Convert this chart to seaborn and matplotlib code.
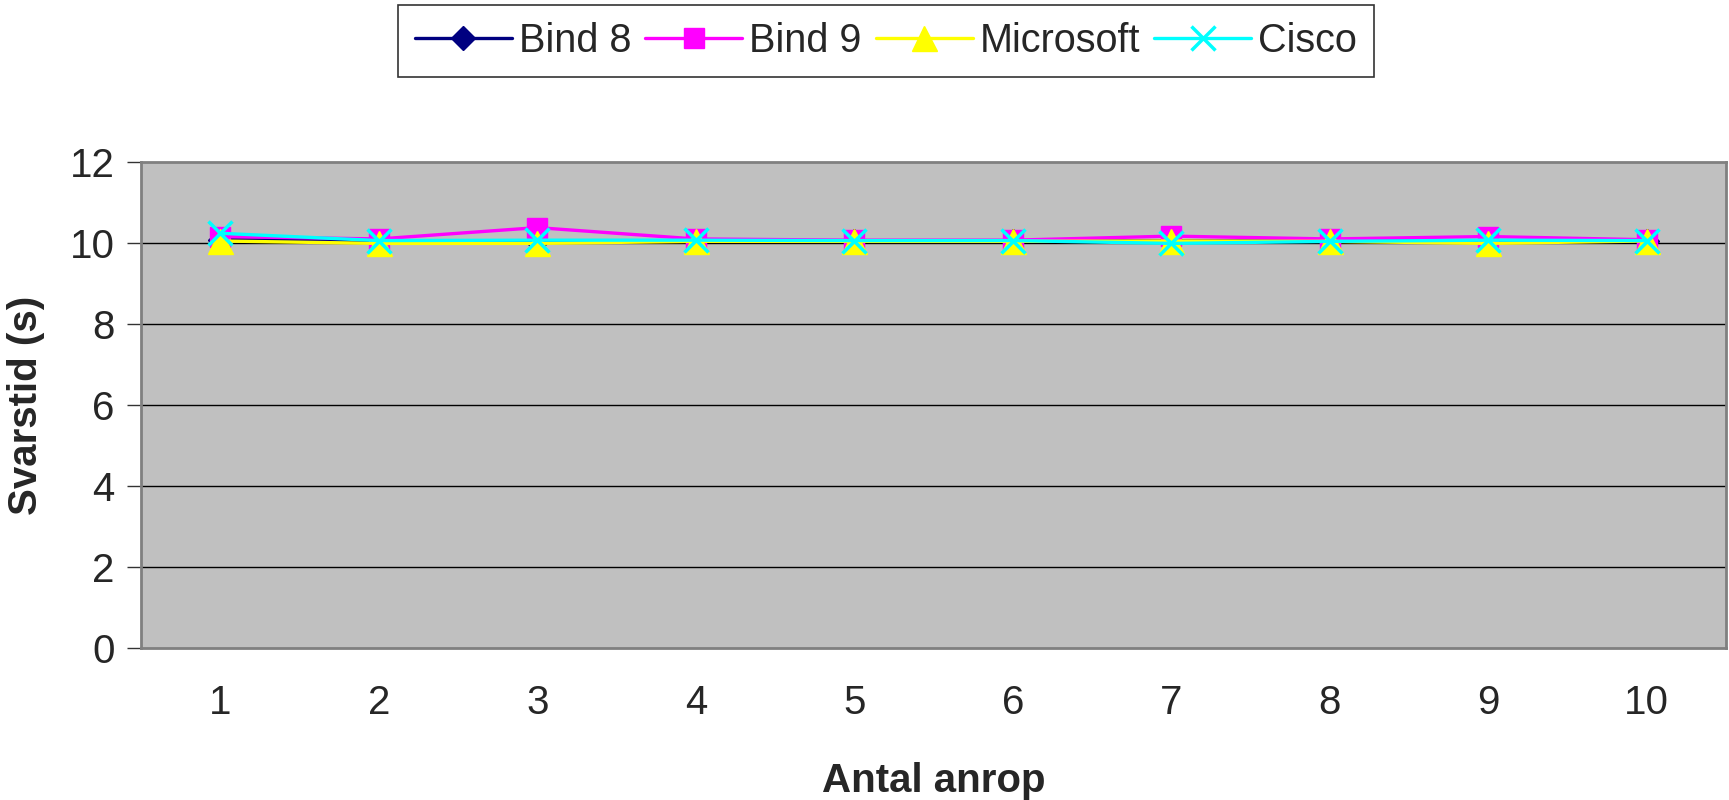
import matplotlib
matplotlib.use("Agg")
import matplotlib.pyplot as plt
import seaborn as sns
import pandas as pd
import numpy as np

# values
anrop = [1, 2, 3, 4, 5, 6, 7, 8, 9, 10]
bind8 = [10.08, 10.06, 10.05, 10.05, 10.05, 10.05, 10.05, 10.05, 10.05, 10.05]
bind9 = [10.16, 10.10, 10.38, 10.10, 10.07, 10.07, 10.17, 10.10, 10.16, 10.08]
microsoft = [10.05, 9.99, 9.99, 10.04, 10.04, 10.04, 10.05, 10.04, 9.99, 10.05]
cisco = [10.24, 10.06, 10.07, 10.07, 10.06, 10.06, 9.99, 10.04, 10.07, 10.06]

series_names = ["Bind 8", "Bind 9", "Microsoft", "Cisco"]
colors = ["#000080", "#FF00FF", "#FFFF00", "#00FFFF"]
markers = ["D", "s", "^", "x"]
msizes = [12, 15, 18, 17]

sns.set_style("white")
plt.rcParams['font.family'] = ['Liberation Sans', 'DejaVu Sans']

fig = plt.figure(figsize=(17.29, 8), dpi=100)
ax = fig.add_axes([141/1729, 1 - 648/800, (1726 - 141)/1729, (648 - 162)/800])
ax.set_facecolor("#C0C0C0")

# black horizontal gridlines
for yv in [2, 4, 6, 8, 10]:
    ax.axhline(yv, color="black", lw=1.0, zorder=1)

for name, vals, c, m, ms in zip(series_names, [bind8, bind9, microsoft, cisco], colors, markers, msizes):
    df = pd.DataFrame({"Antal anrop": anrop, "Svarstid (s)": vals})
    sns.lineplot(data=df, x="Antal anrop", y="Svarstid (s)", ax=ax, color=c, lw=2.4,
                 errorbar=None, marker=m, markersize=ms, markeredgecolor=c,
                 markeredgewidth=2.5 if m == "x" else 1, label=name, zorder=3)

ax.set_xlim(0.5, 10.5)
ax.set_ylim(0, 12)
ax.set_yticks(range(0, 13, 2))
ax.set_xticks(anrop)
ax.set_xticks(np.arange(0.5, 11, 1), minor=True)
ax.tick_params(axis="x", which="major", length=0, pad=26, labelsize=29)
ax.tick_params(axis="x", which="minor", length=10, width=1, color="#333333", direction="out")
ax.tick_params(axis="y", length=10, width=1, color="#333333", direction="out", pad=9, labelsize=29, left=True)

for sp in ax.spines.values():
    sp.set_color("#808080")
    sp.set_linewidth(2)

ax.set_xlabel("Antal anrop", fontsize=29, fontweight="bold", labelpad=29)
ax.set_ylabel("Svarstid (s)", fontsize=29, fontweight="bold", labelpad=18)

handles, labels = ax.get_legend_handles_labels()
ax.get_legend().remove()
leg = fig.legend(handles, labels, loc="center", bbox_to_anchor=(886/1729, 1 - 41/800), ncol=4,
                 fontsize=28.5, frameon=True, fancybox=False, edgecolor="black",
                 handlelength=2.45, handletextpad=0.18, columnspacing=0.35, borderpad=0.42)
leg.get_frame().set_linewidth(1.2)

fig.savefig("out.png", dpi=100, facecolor="white")
